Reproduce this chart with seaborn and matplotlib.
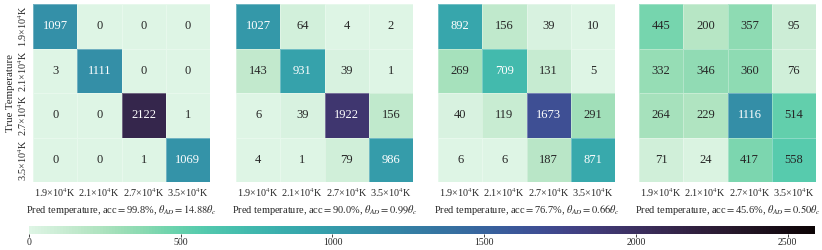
import numpy as np
import matplotlib
matplotlib.use("Agg")
import matplotlib.pyplot as plt
import seaborn as sns

# confusion matrices (rows: true temperature, cols: predicted)
labels = ["1.9×10$^4$K", "2.1×10$^4$K", "2.7×10$^4$K", "3.5×10$^4$K"]
cm1 = [[1097, 0, 0, 0], [3, 1111, 0, 0], [0, 0, 2122, 1], [0, 0, 1, 1069]]
cm2 = [[1027, 64, 4, 2], [143, 931, 39, 1], [6, 39, 1922, 156], [4, 1, 79, 986]]
cm3 = [[892, 156, 39, 10], [269, 709, 131, 5], [40, 119, 1673, 291], [6, 6, 187, 871]]
cm4 = [[445, 200, 357, 95], [332, 346, 360, 76], [264, 229, 1116, 514], [71, 24, 417, 558]]
accs = ["99.8", "90.0", "76.7", "45.6"]
thetas = ["14.88", "0.99", "0.66", "0.50"]
vmax = 2590

sns.set_theme(style="white")
plt.rcParams["font.family"] = ["Liberation Serif", "DejaVu Serif"]
plt.rcParams["mathtext.fontset"] = "stix"

fig = plt.figure(figsize=(8.22, 2.5), dpi=100)
lefts = [33, 236, 438, 639]
cmap = sns.color_palette("mako_r", as_cmap=True)

for i, (cm, acc, th) in enumerate(zip([cm1, cm2, cm3, cm4], accs, thetas)):
    ax = fig.add_axes([lefts[i] / 822, 0.272, 177 / 822, 0.712])
    sns.heatmap(np.array(cm), ax=ax, cmap=cmap, vmin=0, vmax=vmax, annot=True, fmt="d",
                cbar=False, linewidths=0.4, linecolor=(1, 1, 1, 0.3),
                annot_kws={"fontsize": 9}, square=False)
    ax.set_xticklabels(labels, fontsize=7.3, rotation=0)
    if i == 0:
        ax.set_yticklabels(labels, fontsize=7.3, rotation=90, va="center")
        ax.set_ylabel("True Temperature", fontsize=7.8, labelpad=1)
    else:
        ax.set_yticks([])
    ax.set_xlabel("Pred temperature, acc$=$" + acc + "%, $\\theta_{AD}=" + th + "\\theta_c$",
                  fontsize=7.5, labelpad=3)
    ax.tick_params(axis="both", length=0, pad=3)

cax = fig.add_axes([29 / 822, 1 - 234 / 250, 786 / 822, 8 / 250])
sm = plt.cm.ScalarMappable(cmap=cmap, norm=plt.Normalize(0, vmax))
cb = fig.colorbar(sm, cax=cax, orientation="horizontal")
cb.set_ticks([0, 500, 1000, 1500, 2000, 2500])
cb.ax.tick_params(labelsize=7, length=2, width=0.6, pad=1)
cb.outline.set_visible(False)

fig.savefig("out.png", dpi=100)
